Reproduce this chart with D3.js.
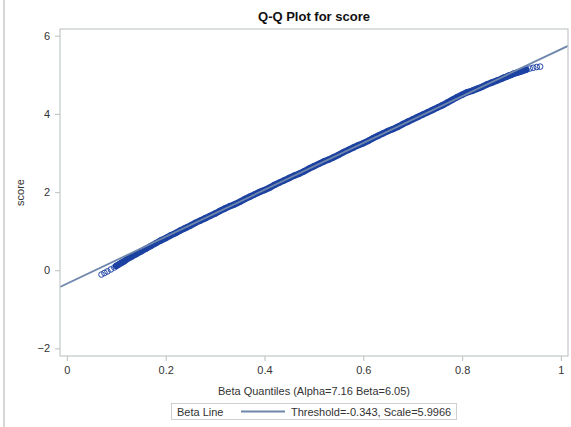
<!DOCTYPE html>
<html>
<head>
<meta charset="utf-8">
<script src="https://cdn.jsdelivr.net/npm/d3@7"></script>
<style>
  html, body { margin: 0; padding: 0; background: #fff; }
  svg { display: block; font-family: "Liberation Sans", Arial, sans-serif; }
</style>
</head>
<body>
<svg id="chart" width="571" height="427"></svg>
<script>
// ---- data ----
const quantiles = [
  0.070, 0.076, 0.082, 0.089, 0.096,
  0.100, 0.104, 0.108, 0.112, 0.116, 0.120,
  0.13, 0.14, 0.15, 0.16, 0.17, 0.18, 0.19, 0.20, 0.21, 0.22,
  0.23, 0.24, 0.25, 0.26, 0.27, 0.28, 0.29, 0.30, 0.31, 0.32,
  0.33, 0.34, 0.35, 0.36, 0.37, 0.38, 0.39, 0.40, 0.41, 0.42,
  0.43, 0.44, 0.45, 0.46, 0.47, 0.48, 0.49, 0.50, 0.51, 0.52,
  0.53, 0.54, 0.55, 0.56, 0.57, 0.58, 0.59, 0.60, 0.61, 0.62,
  0.63, 0.64, 0.65, 0.66, 0.67, 0.68, 0.69, 0.70, 0.71, 0.72,
  0.73, 0.74, 0.75, 0.76, 0.77, 0.78, 0.79, 0.80, 0.81, 0.82,
  0.83, 0.84, 0.85, 0.86, 0.87, 0.88, 0.885, 0.89, 0.895, 0.90,
  0.905, 0.91, 0.915, 0.92, 0.925, 0.93,
  0.937, 0.944, 0.951, 0.958
];
const scores = [
  -0.11, -0.07, -0.03, 0.02, 0.07,
  0.11, 0.14, 0.17, 0.20, 0.23, 0.27,
  0.34, 0.41, 0.48, 0.55, 0.62, 0.69, 0.76, 0.82, 0.89, 0.95,
  1.02, 1.08, 1.14, 1.21, 1.27, 1.33, 1.39, 1.45, 1.52, 1.58,
  1.64, 1.69, 1.75, 1.82, 1.88, 1.94, 2.00, 2.05, 2.11, 2.18,
  2.24, 2.30, 2.36, 2.42, 2.47, 2.53, 2.60, 2.66, 2.72, 2.78,
  2.83, 2.89, 2.95, 3.02, 3.08, 3.14, 3.20, 3.25, 3.31, 3.38,
  3.44, 3.50, 3.56, 3.61, 3.67, 3.74, 3.80, 3.86, 3.92, 3.98,
  4.04, 4.10, 4.16, 4.22, 4.29, 4.36, 4.43, 4.49, 4.55, 4.59,
  4.64, 4.69, 4.75, 4.80, 4.85, 4.90, 4.93, 4.95, 4.98, 5.00,
  5.03, 5.05, 5.07, 5.09, 5.11, 5.13,
  5.16, 5.18, 5.20, 5.21
];
const xTicks = [0, 0.2, 0.4, 0.6, 0.8, 1];
const xTickLabels = ["0", "0.2", "0.4", "0.6", "0.8", "1"];
const yTicks = [-2, 0, 2, 4, 6];
const threshold = -0.343;
const scale = 5.9966;
const titleText = "Q-Q Plot for score";
const xLabel = "Beta Quantiles (Alpha=7.16 Beta=6.05)";
const yLabel = "score";
const legendName = "Beta Line";
const legendDesc = "Threshold=-0.343, Scale=5.9966";

// ---- layout ----
const svg = d3.select("#chart");
const plot = { left: 60, top: 29, right: 568, bottom: 356 };
const x = d3.scaleLinear().domain([-0.014, 1.0144]).range([plot.left, plot.right]);
const y = d3.scaleLinear().domain([-2.195, 6.172]).range([plot.bottom, plot.top]);

const frameColor = "#c4c8c8";
const textColor = "#333";
const markerColor = "#1e44a6";
const bandColor = "#1a3f9e";
const fitColor = "#6f87ac";

// left page edge
svg.append("rect").attr("x", 3).attr("y", 0).attr("width", 2).attr("height", 427).attr("fill", "#d6d6d6");

// clip
svg.append("clipPath").attr("id", "clip").append("rect")
  .attr("x", plot.left).attr("y", plot.top)
  .attr("width", plot.right - plot.left).attr("height", plot.bottom - plot.top);

// data
const pts = quantiles.map((q, i) => ({ q, s: scores[i] }));
const core = pts.filter(d => d.q >= 0.1 && d.q <= 0.93);

const g = svg.append("g").attr("clip-path", "url(#clip)");
g.append("path")
  .datum(core)
  .attr("fill", "none")
  .attr("stroke", bandColor)
  .attr("stroke-width", 6.5)
  .attr("stroke-linecap", "round")
  .attr("d", d3.line().x(d => x(d.q)).y(d => y(d.s)));

g.selectAll("circle.pt").data(pts).join("circle")
  .attr("class", "pt")
  .attr("cx", d => x(d.q)).attr("cy", d => y(d.s))
  .attr("r", 2.8)
  .attr("fill", "none")
  .attr("stroke", markerColor)
  .attr("stroke-width", 1);

// fitted line
const xd = x.domain();
g.append("line")
  .attr("x1", x(xd[0])).attr("y1", y(threshold + scale * xd[0]))
  .attr("x2", x(xd[1])).attr("y2", y(threshold + scale * xd[1]))
  .attr("stroke", fitColor).attr("stroke-width", 1.8);

// frame
svg.append("rect")
  .attr("x", plot.left).attr("y", plot.top)
  .attr("width", plot.right - plot.left).attr("height", plot.bottom - plot.top)
  .attr("fill", "none").attr("stroke", frameColor).attr("stroke-width", 1.2);

// axes
const xAxis = d3.axisBottom(x).tickValues(xTicks).tickFormat((d, i) => xTickLabels[i]).tickSize(5).tickPadding(5);
const xg = svg.append("g").attr("transform", `translate(0,${plot.bottom})`).call(xAxis);
xg.select(".domain").remove();
xg.selectAll("line").attr("stroke", frameColor).attr("stroke-width", 1.2);
xg.selectAll("text").attr("font-size", 11).attr("fill", textColor).attr("font-family", "Liberation Sans, Arial, sans-serif");

const yAxis = d3.axisLeft(y).tickValues(yTicks).tickFormat(d3.format("d")).tickSize(5).tickPadding(5);
const yg = svg.append("g").attr("transform", `translate(${plot.left},0)`).call(yAxis);
yg.select(".domain").remove();
yg.selectAll("line").attr("stroke", frameColor).attr("stroke-width", 1.2);
yg.selectAll("text").attr("font-size", 11).attr("fill", textColor).attr("font-family", "Liberation Sans, Arial, sans-serif");

// title & labels
const cx = (plot.left + plot.right) / 2;
svg.append("text").attr("x", cx).attr("y", 21).attr("text-anchor", "middle")
  .attr("font-size", 13).attr("font-weight", "bold").attr("fill", "#111").text(titleText);
svg.append("text").attr("x", cx).attr("y", 395).attr("text-anchor", "middle")
  .attr("font-size", 11).attr("fill", textColor).text(xLabel);
svg.append("text").attr("transform", `translate(24,${(plot.top + plot.bottom) / 2}) rotate(-90)`)
  .attr("text-anchor", "middle").attr("font-size", 11).attr("fill", textColor).text(yLabel);

// legend
const lg = svg.append("g");
lg.append("rect").attr("x", 171.5).attr("y", 403.5).attr("width", 285).attr("height", 16)
  .attr("fill", "#fff").attr("stroke", "#cfcfcf").attr("stroke-width", 1);
lg.append("text").attr("x", 177).attr("y", 415.5).attr("font-size", 11).attr("fill", textColor).text(legendName);
lg.append("line").attr("x1", 241).attr("x2", 285).attr("y1", 411.5).attr("y2", 411.5)
  .attr("stroke", fitColor).attr("stroke-width", 1.8);
lg.append("text").attr("x", 291).attr("y", 415.5).attr("font-size", 11).attr("fill", textColor).text(legendDesc);
</script>
</body>
</html>
